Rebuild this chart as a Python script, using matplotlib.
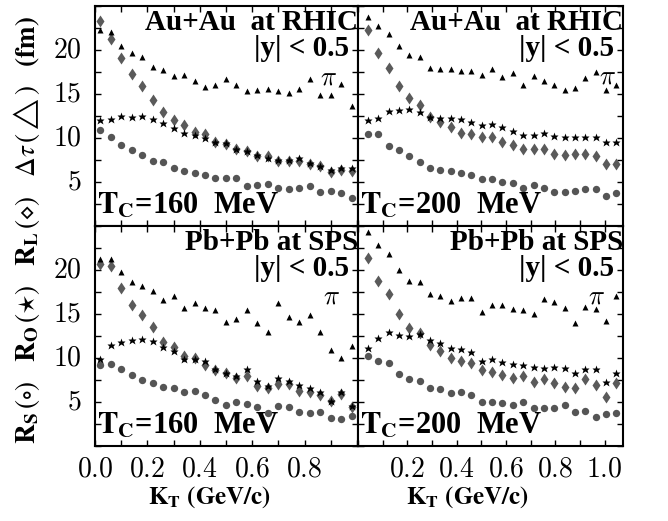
import matplotlib
matplotlib.use("Agg")
import matplotlib.pyplot as plt
import numpy as np

# ---------------- data ----------------
kt_left = [0.02, 0.06, 0.10, 0.14, 0.18, 0.22, 0.26, 0.30, 0.34, 0.38, 0.42, 0.46, 0.50,
           0.54, 0.58, 0.62, 0.66, 0.70, 0.74, 0.78, 0.82, 0.86, 0.90, 0.94, 0.98]
kt_right = [0.040, 0.082, 0.124, 0.166, 0.208, 0.250, 0.292, 0.334, 0.376, 0.418, 0.460,
            0.502, 0.544, 0.586, 0.628, 0.670, 0.712, 0.754, 0.796, 0.838, 0.880, 0.922,
            0.964, 1.006, 1.048]

# RHIC, Tc = 160 MeV
rhic160_rs = [10.9, 10.1, 9.2, 8.6, 8.1, 7.4, 7.3, 6.6, 6.3, 6.05, 5.75, 5.5, 5.5,
              5.4, 4.5, 4.7, 4.8, 4.35, 4.2, 4.35, 4.5, 3.9, 4.0, 3.8, 3.2]
rhic160_ro = [12.0, 12.2, 12.5, 12.4, 12.5, 12.2, 11.7, 11.1, 10.6, 10.3, 9.95, 9.6, 9.4,
              8.8, 8.5, 8.1, 7.75, 7.5, 7.5, 7.75, 7.2, 6.8, 6.4, 6.6, 6.6]
rhic160_rl = [23.3, 21.2, 19.1, 17.3, 15.9, 14.3, 12.9, 12.1, 11.5, 10.7, 10.4, 9.6, 9.3,
              8.7, 8.5, 8.0, 7.9, 7.4, 7.4, 7.4, 7.0, 6.8, 6.1, 6.4, 6.3]
rhic160_dt = [22.3, 22.0, 20.4, 19.7, 19.2, 18.1, 17.7, 17.1, 17.2, 16.5, 15.8, 16.0, 16.7,
              16.0, 15.3, 15.4, 15.6, 15.3, 15.1, 15.6, 16.7, 14.9, 14.9, 16.1, 13.6]

# RHIC, Tc = 200 MeV
rhic200_rs = [10.4, 10.4, 9.1, 8.6, 8.0, 7.25, 6.6, 6.4, 6.3, 6.05, 5.85, 5.3, 5.3,
              5.0, 4.9, 4.35, 4.65, 4.35, 3.9, 3.9, 4.0, 4.25, 4.2, 3.4, 3.7]
rhic200_ro = [12.1, 12.3, 13.1, 13.2, 13.3, 13.0, 12.4, 12.3, 12.3, 12.2, 11.8, 11.5, 11.6,
              11.2, 10.8, 10.3, 10.3, 10.6, 10.2, 10.1, 10.1, 10.1, 10.1, 9.5, 9.5]
rhic200_rl = [22.3, 19.7, 17.9, 15.9, 14.6, 13.7, 12.4, 11.8, 11.3, 10.6, 10.5, 10.1, 10.1,
              9.5, 9.2, 8.8, 8.7, 8.7, 8.2, 8.05, 8.2, 8.2, 7.9, 7.0, 7.1]
rhic200_dt = [23.8, 22.7, 21.8, 20.5, 19.4, 19.2, 17.9, 17.8, 17.8, 17.6, 17.6, 17.2, 17.85,
              16.9, 17.4, 16.0, 17.1, 16.5, 16.0, 15.4, 15.7, 16.8, 17.5, 15.4, 16.0]

# SPS, Tc = 160 MeV
sps160_rs = [9.2, 9.3, 8.7, 8.05, 7.5, 7.2, 6.7, 6.55, 6.1, 6.2, 5.75, 5.25, 4.65,
             5.0, 4.75, 4.4, 3.8, 4.55, 4.4, 3.9, 3.7, 3.9, 3.2, 3.1, 3.4]
sps160_ro = [9.9, 11.45, 11.8, 12.0, 12.2, 11.95, 11.25, 10.8, 9.9, 9.85, 9.7, 8.8, 8.3,
             7.9, 8.7, 7.4, 6.85, 7.7, 7.4, 6.9, 6.6, 6.1, 5.15, 6.1, 4.6]
sps160_rl = [20.7, 20.5, 18.0, 16.0, 14.9, 13.5, 11.8, 11.3, 10.25, 10.05, 9.25, 8.6, 8.3,
             7.7, 7.9, 6.8, 6.6, 7.1, 7.1, 6.3, 6.1, 5.8, 5.15, 5.9, 4.45]
sps160_dt = [21.2, 21.3, 19.8, 18.65, 18.15, 17.6, 16.6, 17.1, 15.7, 16.2, 15.65, 15.5, 14.1,
             14.4, 15.4, 14.0, 12.9, 16.2, 14.7, 14.1, 14.9, 13.0, 10.9, 10.05, 11.4]

# SPS, Tc = 200 MeV
sps200_rs = [10.25, 9.7, 9.4, 8.15, 7.6, 7.4, 6.55, 6.45, 6.0, 6.1, 5.8, 5.05, 5.05,
             4.85, 4.7, 4.95, 4.3, 4.3, 4.3, 4.65, 3.9, 4.0, 3.35, 3.6, 3.8]
sps200_ro = [11.1, 12.3, 13.0, 12.6, 12.5, 12.7, 12.0, 11.65, 11.1, 11.0, 10.7, 9.7, 9.9,
             9.55, 9.3, 9.2, 9.0, 8.9, 9.0, 8.85, 8.3, 8.7, 8.7, 7.3, 8.35]
sps200_rl = [21.4, 18.8, 17.25, 15.05, 13.4, 12.8, 11.45, 10.8, 10.0, 9.7, 9.4, 8.6, 8.45,
             8.1, 7.7, 7.9, 7.3, 7.6, 7.15, 6.75, 6.55, 7.6, 6.9, 5.6, 7.2]
sps200_dt = [24.3, 22.8, 21.8, 20.0, 18.8, 18.6, 17.3, 17.1, 16.5, 16.8, 16.8, 15.25, 16.0,
             16.0, 15.6, 15.5, 15.05, 16.7, 16.4, 15.7, 14.0, 15.85, 15.6, 14.2, 17.0]

collision_labels = ["Au+Au  at RHIC", "Au+Au  at RHIC", "Pb+Pb at SPS", "Pb+Pb at SPS"]
tc_labels = ["160", "200", "160", "200"]
ytick_vals = [5, 10, 15, 20]
xtick_left = [0.0, 0.2, 0.4, 0.6, 0.8]
xtick_right = [0.2, 0.4, 0.6, 0.8, 1.0]

# ---------------- figure ----------------
W, H = 668, 521
fig = plt.figure(figsize=(W / 100, H / 100), dpi=100)

def fx(p):
    return p / W

def fy(p):
    return 1 - p / H

xl0, xmid, xr1 = 95, 358, 623
yt0, ymid, yb1 = 6, 226, 446

pos = [
    [fx(xl0), fy(ymid), fx(xmid - xl0), (ymid - yt0) / H],
    [fx(xmid), fy(ymid), fx(xr1 - xmid), (ymid - yt0) / H],
    [fx(xl0), fy(yb1), fx(xmid - xl0), (yb1 - ymid) / H],
    [fx(xmid), fy(yb1), fx(xr1 - xmid), (yb1 - ymid) / H],
]

panels = [
    (kt_left, rhic160_rs, rhic160_ro, rhic160_rl, rhic160_dt),
    (kt_right, rhic200_rs, rhic200_ro, rhic200_rl, rhic200_dt),
    (kt_left, sps160_rs, sps160_ro, sps160_rl, sps160_dt),
    (kt_right, sps200_rs, sps200_ro, sps200_rl, sps200_dt),
]
pi_pos = [(0.886, 0.675), (0.94, 0.68), (0.90, 0.678), (0.90, 0.678)]

serif_bold = dict(family="Liberation Serif", weight="bold")

for i, (p, (kt, rs, ro, rl, dt)) in enumerate(zip(pos, panels)):
    ax = fig.add_axes(p)
    left = (i % 2 == 0)
    bottom = (i >= 2)
    if left:
        ax.set_xlim(0.0, 1.004)
    else:
        ax.set_xlim(0.015, 1.075)
    ax.set_ylim(0, 25)

    ax.plot(kt, rs, linestyle="none", marker="o", ms=5.3, color="#555555", mec="none", zorder=3)
    ax.plot(kt, rl, linestyle="none", marker="d", ms=6.5, color="#5a5a5a", mec="none", zorder=4)
    ax.plot(kt, ro, linestyle="none", marker="*", ms=6.3, color="black", mec="none", zorder=5)
    ax.plot(kt, dt, linestyle="none", marker="^", ms=4.5, color="black", mec="none", zorder=6)

    for s in ax.spines.values():
        s.set_linewidth(1.5)

    ax.set_yticks(np.arange(0, 25.01, 2.5))
    ax.set_yticklabels([])
    ax.set_xticks(np.arange(0, 1.001, 0.1))
    ax.set_xticklabels([])
    ax.tick_params(axis="both", which="both", direction="in", length=4, width=1,
                   top=True, right=True, labelleft=False, labelbottom=False)

    if left:
        for v in ytick_vals:
            ax.text(-0.05, v, r"$%d$" % v, transform=ax.get_yaxis_transform(),
                    ha="right", va="center", fontsize=20, math_fontfamily="cm")
    if bottom:
        xts = xtick_left if left else xtick_right
        for v in xts:
            ax.text(v, -0.04, r"$%.1f$" % v, transform=ax.get_xaxis_transform(),
                    ha="center", va="top", fontsize=20, math_fontfamily="cm")

    ax.text(1.0, 0.985, collision_labels[i], transform=ax.transAxes, ha="right", va="top",
            fontsize=21, **serif_bold)
    ax.text(0.965, 0.868, "|y| < 0.5", transform=ax.transAxes, ha="right", va="top",
            fontsize=21, **serif_bold)
    ax.text(pi_pos[i][0], pi_pos[i][1], r"$\pi$", transform=ax.transAxes, ha="center",
            va="center", fontsize=19, math_fontfamily="cm")
    ax.text(0.008, 0.03, r"$\mathbf{T_C}$=" + tc_labels[i] + "  MeV",
            transform=ax.transAxes, ha="left", va="bottom", fontsize=22,
            math_fontfamily="stix", **serif_bold)

# y label
ylab = (r"$\mathbf{R_S}\,(\circ)\ \ \ \mathbf{R_O}\,(\star)\ \ \ \mathbf{R_L}\,(\diamond)"
        r"\ \ \ \Delta\tau\,(\triangle)\ \ \ \mathbf{(fm)}$")
fig.text(fx(27), fy(230), ylab, rotation=90, ha="center", va="center", fontsize=19.5,
         math_fontfamily="stix")

# x labels
for xc in (209, 467):
    fig.text(fx(xc), fy(497), r"$\mathbf{K_T\ (GeV/c)}$", ha="center", va="center",
             fontsize=18, math_fontfamily="stix")

fig.savefig("out.png", dpi=100)
